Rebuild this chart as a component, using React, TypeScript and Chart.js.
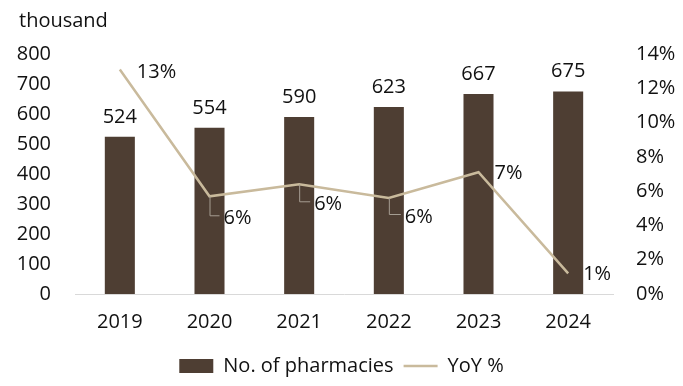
import React, { useEffect, useRef } from "react";
import { Chart, registerables } from "chart.js";

Chart.register(...registerables);

const years = ["2019", "2020", "2021", "2022", "2023", "2024"];
const pharmacies = [524, 554, 590, 623, 667, 675];
const yoyPct = [13.1, 5.7, 6.4, 5.6, 7.1, 1.2];
const leftTicks = [0, 100, 200, 300, 400, 500, 600, 700, 800];
const rightTicks = [0, 2, 4, 6, 8, 10, 12, 14];
const unitLabel = "thousand";
const barName = "No. of pharmacies";
const lineName = "YoY %";

const FONT = "'Open Sans', sans-serif";
const FS = 20;
const BAR_COLOR = "#4e3e33";
const LINE_COLOR = "#c9ba9c";
const TEXT = "#111111";

// label placement for the YoY labels (style only)
const lineLabelStyle = [
  { dx: 17, dy: 3, leader: false },
  { dx: 14, dy: 22, leader: true },
  { dx: 15, dy: 20, leader: true },
  { dx: 16, dy: 19, leader: true },
  { dx: 16, dy: 1, leader: false },
  { dx: 15, dy: 1, leader: false },
];

const labelPlugin = {
  id: "labels",
  afterDatasetsDraw(chart: any) {
    const ctx = chart.ctx;
    ctx.save();
    ctx.font = `${FS}px ${FONT}`;
    ctx.fillStyle = TEXT;
    const barMeta = chart.getDatasetMeta(0);
    barMeta.data.forEach((el: any, i: number) => {
      ctx.textAlign = "center";
      ctx.textBaseline = "middle";
      ctx.fillText(String(pharmacies[i]), el.x, el.y - 20);
    });
    const lineMeta = chart.getDatasetMeta(1);
    lineMeta.data.forEach((el: any, i: number) => {
      const s = lineLabelStyle[i];
      const px = el.x;
      const py = el.y;
      if (s.leader) {
        ctx.strokeStyle = "#a59d92";
        ctx.lineWidth = 1;
        ctx.beginPath();
        ctx.moveTo(px + 0.5, py);
        ctx.lineTo(px + 0.5, py + s.dy - 2.5);
        ctx.lineTo(px + s.dx - 4, py + s.dy - 2.5);
        ctx.stroke();
      }
      ctx.textAlign = "left";
      ctx.textBaseline = "middle";
      ctx.fillStyle = TEXT;
      ctx.fillText(`${Math.round(yoyPct[i])}%`, px + s.dx, py + s.dy);
    });
    ctx.restore();
  },
  afterDraw(chart: any) {
    const ctx = chart.ctx;
    ctx.save();
    ctx.font = `${FS}px ${FONT}`;
    ctx.fillStyle = TEXT;
    ctx.textAlign = "left";
    ctx.textBaseline = "middle";
    ctx.fillText(unitLabel, 19, 21);
    ctx.restore();
  },
};

export default function App() {
  const ref = useRef<HTMLCanvasElement | null>(null);
  useEffect(() => {
    if (!ref.current) return;
    const chart = new Chart(ref.current, {
      type: "bar",
      data: {
        labels: years,
        datasets: [
          {
            type: "bar",
            label: barName,
            data: pharmacies,
            backgroundColor: BAR_COLOR,
            borderWidth: 0,
            yAxisID: "y",
            order: 2,
            barPercentage: 0.335,
            categoryPercentage: 1,
            pointStyle: "rect",
          } as any,
          {
            type: "line",
            label: lineName,
            data: yoyPct,
            borderColor: LINE_COLOR,
            backgroundColor: LINE_COLOR,
            borderWidth: 2.5,
            pointRadius: 0,
            pointStyle: "line",
            tension: 0,
            yAxisID: "y1",
            order: 1,
          } as any,
        ],
      },
      options: {
        responsive: false,
        animation: false,
        devicePixelRatio: 1,
        layout: { padding: { top: 54, bottom: 0, left: 0, right: 0 } },
        plugins: {
          tooltip: { enabled: false },
          title: { display: false },
          legend: {
            display: true,
            position: "bottom",
            labels: {
              usePointStyle: true,
              pointStyleWidth: 34,
              boxHeight: 14,
              color: TEXT,
              font: { family: FONT, size: FS },
              padding: 10,
              sort: (a: any, b: any) => a.datasetIndex - b.datasetIndex,
            },
          },
        },
        scales: {
          x: {
            grid: { display: false, drawTicks: false },
            border: { display: true, color: "#d9d9d9", width: 1 },
            ticks: { color: TEXT, font: { family: FONT, size: FS }, padding: 16 },
            afterFit: (s: any) => {
              s.height = 52;
            },
          },
          y: {
            position: "left",
            min: 0,
            max: 800,
            afterBuildTicks: (s: any) => {
              s.ticks = leftTicks.map((v) => ({ value: v }));
            },
            grid: { display: false, drawTicks: false },
            border: { display: false },
            ticks: { color: TEXT, font: { family: FONT, size: FS }, padding: 24 },
            afterFit: (s: any) => {
              s.width = 75;
            },
          },
          y1: {
            position: "right",
            min: 0,
            max: 14,
            afterBuildTicks: (s: any) => {
              s.ticks = rightTicks.map((v) => ({ value: v }));
            },
            grid: { display: false, drawTicks: false },
            border: { display: false },
            ticks: {
              color: TEXT,
              font: { family: FONT, size: FS },
              padding: 23,
              callback: (v: any) => `${v}%`,
            },
            afterFit: (s: any) => {
              s.width = 70;
            },
          },
        },
      },
      plugins: [labelPlugin],
    });
    return () => chart.destroy();
  }, []);
  return (
    <div style={{ position: "absolute", left: 0, top: 0, width: 683, height: 386, background: "#fff" }}>
      <canvas ref={ref} width={683} height={386} style={{ width: 683, height: 386, display: "block" }} />
    </div>
  );
}
